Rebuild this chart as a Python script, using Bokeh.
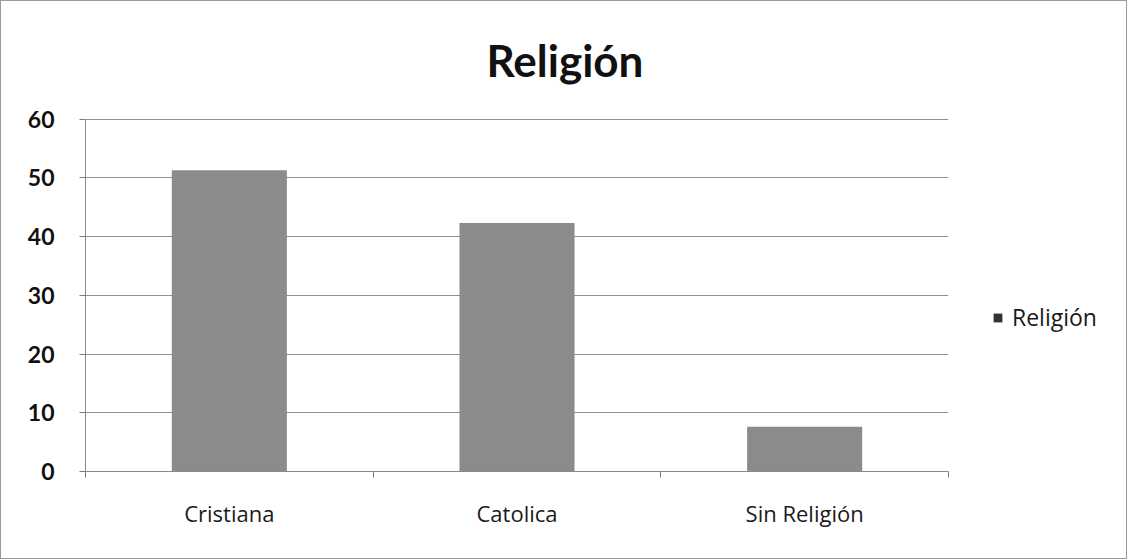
from bokeh.plotting import figure
from bokeh.layouts import row
from bokeh.models import ColumnDataSource, Range1d, FixedTicker, Legend, LegendItem, Title
from bokeh.embed import file_html
from bokeh.resources import INLINE

categories = ["Cristiana", "Catolica", "Sin Religión"]
values = [51.3, 42.3, 7.6]
y_ticks = [0, 10, 20, 30, 40, 50, 60]
series_name = "Religión"

TITLE_FONT = "Lato"
FONT = "Open Sans"
positions = list(range(len(categories)))
source = ColumnDataSource(data=dict(x=positions, top=values, cat=categories))

# the frame reaches a little above the last tick; the y axis line stops at 60
p = figure(
    width=949, height=557,
    output_backend="svg", toolbar_location=None,
    x_range=Range1d(0 - 0.5, len(categories) - 0.5),
    y_range=Range1d(0, 60.6),
    min_border_left=84, min_border_right=2,
    min_border_top=114, min_border_bottom=87,
    outline_line_color=None,
    background_fill_color="white", border_fill_color="white",
)

p.title = Title(text=series_name, align="left", offset=401, text_font=TITLE_FONT,
                text_font_size="44px", text_font_style="bold",
                text_color="#111111", standoff=60)

p.vbar(x="x", top="top", width=0.4, source=source,
       fill_color="#8b8b8b", line_color=None)

# x axis: boundaries between categories as (minor) ticks, names at the centres
xa = p.xaxis[0]
xa.ticker = FixedTicker(ticks=positions,
                        minor_ticks=[i - 0.5 for i in range(len(categories) + 1)])
xa.major_label_overrides = {i: c for i, c in zip(positions, categories)}
xa.major_tick_line_color = None
xa.minor_tick_line_color = "#7a7a7a"
xa.minor_tick_out = 6
xa.minor_tick_in = 0
xa.axis_line_color = "#8a8a8a"
xa.major_label_text_font = FONT
xa.major_label_text_font_size = "22px"
xa.major_label_text_color = "#1a1a1a"
xa.major_label_standoff = 20

ya = p.yaxis[0]
ya.ticker = FixedTicker(ticks=y_ticks)
ya.bounds = (y_ticks[0], y_ticks[-1])
ya.minor_tick_line_color = None
ya.major_tick_line_color = "#7a7a7a"
ya.major_tick_out = 6
ya.major_tick_in = 0
ya.axis_line_color = "#8a8a8a"
ya.major_label_text_font = TITLE_FONT
ya.major_label_text_font_size = "23px"
ya.major_label_text_font_style = "bold"
ya.major_label_text_color = "#111111"
ya.major_label_standoff = 25

p.xgrid.grid_line_color = None
p.ygrid.grid_line_color = "#8f8f8f"
p.ygrid.grid_line_width = 1

# side panel holding the legend
lg = figure(
    width=176, height=557,
    output_backend="svg", toolbar_location=None,
    x_range=Range1d(0, 1), y_range=Range1d(0, 1),
    x_axis_type=None, y_axis_type=None,
    min_border=0, outline_line_color=None,
    background_fill_color="white", border_fill_color="white",
)
lg.grid.grid_line_color = None
swatch = lg.vbar(x=[-5], top=[-5], width=0.1,
                 fill_color="#333333", line_color=None)
legend = Legend(items=[LegendItem(label=series_name, renderers=[swatch])],
                location=(42, 138), background_fill_alpha=0,
                border_line_color=None, label_text_font=FONT,
                label_text_font_size="23px", label_text_color="#1a1a1a",
                glyph_width=11, glyph_height=11, label_standoff=9,
                padding=4, margin=0)
lg.add_layout(legend, "center")

layout = row(p, lg, spacing=0)
layout.styles = {"border": "1px solid #9a9a9a"}

open("out.html", "w").write(file_html(layout, INLINE))
